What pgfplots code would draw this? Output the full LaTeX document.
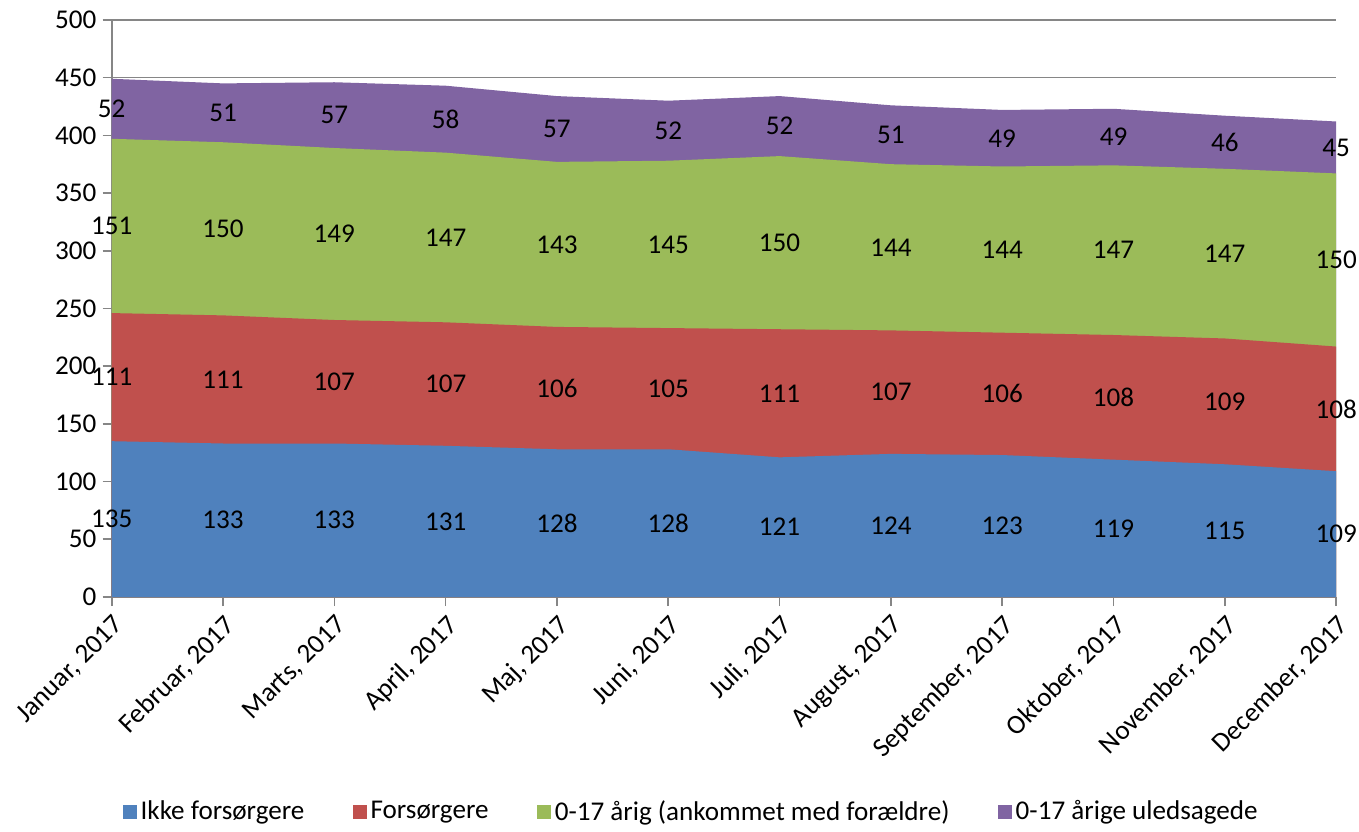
\documentclass[border=0pt]{standalone}
\usepackage{pgfplots}
\usepackage{pgfplotstable}
\pgfplotsset{compat=1.18}
\usepackage{fontspec}
\setmainfont{Carlito}

\definecolor{cblue}{HTML}{4F81BD}
\definecolor{cred}{HTML}{C0504D}
\definecolor{cgreen}{HTML}{9BBB59}
\definecolor{cpurple}{HTML}{8064A2}
\definecolor{cgrid}{HTML}{868686}

% a: Ikke forsørgere, b: Forsørgere, c: 0-17 årig (ankommet med forældre), d: 0-17 årige uledsagede
\pgfplotstableread{
x a b c d
0 135 111 151 52
1 133 111 150 51
2 133 107 149 57
3 131 107 147 58
4 128 106 143 57
5 128 105 145 52
6 121 111 150 52
7 124 107 144 51
8 123 106 144 49
9 119 108 147 49
10 115 109 147 46
11 109 108 150 45
}\data

\begin{document}
\begin{tikzpicture}
\begin{axis}[
    width=610pt, height=287.5pt,
    scale only axis,
    font=\fontsize{13.5}{16}\selectfont,
    /pgf/number format/assume math mode=true,
    xmin=0, xmax=11,
    ymin=0, ymax=500,
    ytick={0,50,...,500},
    xtick={0,...,11},
    xticklabels={{Januar, 2017},{Februar, 2017},{Marts, 2017},{April, 2017},{Maj, 2017},{Juni, 2017},{Juli, 2017},{August, 2017},{September, 2017},{Oktober, 2017},{November, 2017},{December, 2017}},
    xticklabel style={rotate=45, anchor=north east, inner sep=2.5pt},
    yticklabel style={inner sep=3pt},
    axis lines*=left,
    axis line style={draw=cgrid, line width=0.8pt},
    tick align=outside,
    major tick length=4.5pt,
    tick style={draw=cgrid, line width=0.8pt},
    ymajorgrids,
    grid style={draw=cgrid, line width=0.8pt},
    clip=false,
    legend columns=4,
    legend style={draw=none, at={(0.474,-0.372)}, anchor=center,
        /tikz/every even column/.append style={column sep=22pt},
        font=\fontsize{13.5}{16}\selectfont},
    legend image code/.code={\fill[#1] (0pt,-3.5pt) rectangle (7pt,3.5pt);},
    every node near coord/.style={anchor=center, inner sep=1pt, text=black, font=\fontsize{13.5}{16}\selectfont},
]
\addlegendimage{fill=cblue, draw=none}
\addlegendentry{Ikke forsørgere}
\addlegendimage{fill=cred, draw=none}
\addlegendentry{Forsørgere}
\addlegendimage{fill=cgreen, draw=none}
\addlegendentry{0-17 årig (ankommet med forældre)}
\addlegendimage{fill=cpurple, draw=none}
\addlegendentry{0-17 årige uledsagede}

\addplot[fill=cpurple, draw=none, forget plot] table[x=x, y expr=\thisrow{a}+\thisrow{b}+\thisrow{c}+\thisrow{d}] {\data} \closedcycle;
\addplot[fill=cgreen, draw=none, forget plot] table[x=x, y expr=\thisrow{a}+\thisrow{b}+\thisrow{c}] {\data} \closedcycle;
\addplot[fill=cred, draw=none, forget plot] table[x=x, y expr=\thisrow{a}+\thisrow{b}] {\data} \closedcycle;
\addplot[fill=cblue, draw=none, forget plot] table[x=x, y=a] {\data} \closedcycle;

% data labels in the middle of each band
\addplot[draw=none, forget plot, nodes near coords, point meta=explicit]
    table[x=x, y expr=\thisrow{a}/2, meta=a] {\data};
\addplot[draw=none, forget plot, nodes near coords, point meta=explicit]
    table[x=x, y expr=\thisrow{a}+\thisrow{b}/2, meta=b] {\data};
\addplot[draw=none, forget plot, nodes near coords, point meta=explicit]
    table[x=x, y expr=\thisrow{a}+\thisrow{b}+\thisrow{c}/2, meta=c] {\data};
\addplot[draw=none, forget plot, nodes near coords, point meta=explicit]
    table[x=x, y expr=\thisrow{a}+\thisrow{b}+\thisrow{c}+\thisrow{d}/2, meta=d] {\data};
\end{axis}
% a little white margin at the top left, as in the reference
\path (current bounding box.north west) ++(-3.5pt,2.5pt);
\end{tikzpicture}
\end{document}
